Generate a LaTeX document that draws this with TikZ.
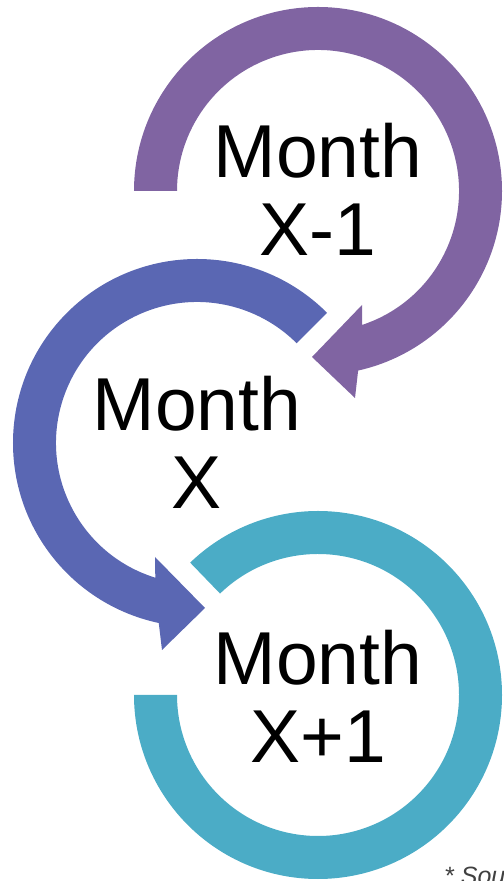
\documentclass[tikz,border=0pt]{standalone}
\usepackage{fontspec}
\setmainfont{Liberation Sans}
\usetikzlibrary{calc}
\definecolor{cpurple}{HTML}{8064A2}
\definecolor{cblue}{HTML}{5A67B3}
\definecolor{cteal}{HTML}{4BACC6}
\definecolor{cnote}{HTML}{404040}
\tikzset{
  monthlabel/.style={align=center, inner sep=0pt, text=black,
    font=\fontsize{75bp}{78bp}\selectfont},
  notelabel/.style={inner sep=0pt, text=cnote, font=\fontsize{25bp}{30bp}\selectfont\itshape}
}
\begin{document}
\begin{tikzpicture}[x=1bp,y=1bp]
\useasboundingbox (0,0) rectangle (504,881);
% ring centres
\coordinate (P) at (318,690);
\coordinate (B) at (197,438);
\coordinate (T) at (318,186);
% purple arrow (Month X-1)
\fill[cpurple] ($(P)+(180:184bp)$) arc[start angle=180, end angle=-77.4, radius=184bp]
  -- (355,483) -- (312,524) -- (362,576)
  -- ($(P)+(-71.8:141bp)$) arc[start angle=-71.8, end angle=180, radius=141bp] -- cycle;
% blue arrow (Month X)
\fill[cblue] ($(B)+(45:184bp)$) arc[start angle=45, end angle=258, radius=184bp]
  -- (162,231) -- (205,273) -- (155,324)
  -- ($(B)+(252.8:141bp)$) arc[start angle=252.8, end angle=45, radius=141bp] -- cycle;
% teal ring (Month X+1)
\fill[cteal] ($(T)+(180:184bp)$) arc[start angle=180, end angle=494, radius=184bp]
  -- ($(T)+(134:141bp)$) arc[start angle=494, end angle=180, radius=141bp] -- cycle;
% labels
\node[monthlabel] (tprev) at (318,691.5) {Month\\X-1};
\node[monthlabel] (tcur) at (197,438.5) {Month\\X};
\node[monthlabel] (tnext) at (318,185) {Month\\X+1};
\node[notelabel, anchor=base west] (note) at (444,-3) {* Sou};
\end{tikzpicture}
\end{document}
